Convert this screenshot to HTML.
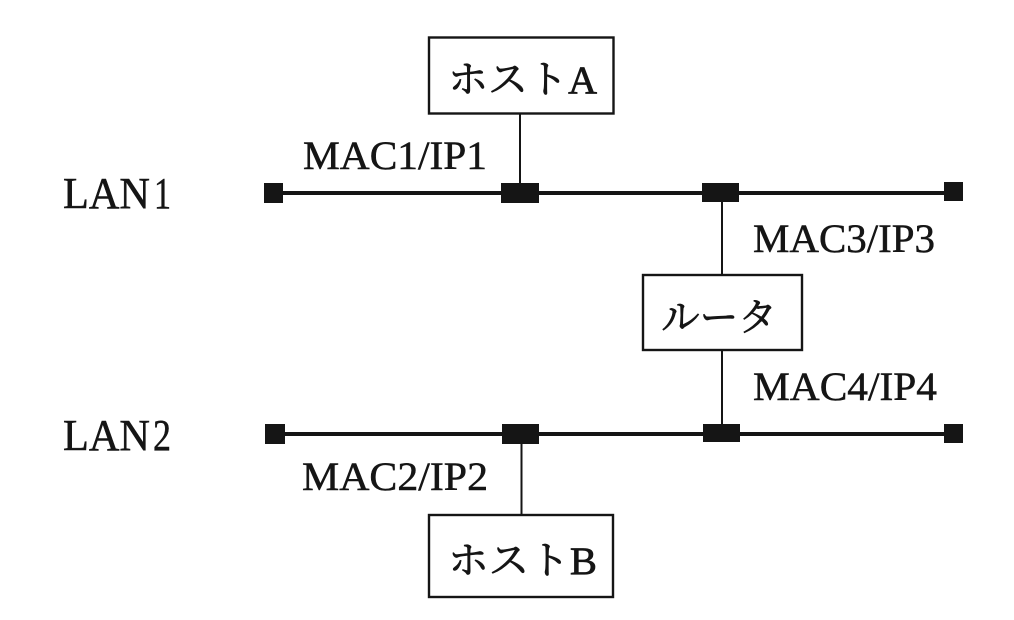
<!DOCTYPE html>
<html><head><meta charset="utf-8"><style>
html,body{margin:0;padding:0;background:#fff;}
svg{display:block;}
text{font-family:"Liberation Serif","Noto Serif CJK SC",serif;fill:#151515;stroke:#151515;stroke-width:0.5;}
.k{font-family:"Liberation Serif","Noto Serif CJK SC","Noto Sans CJK JP",serif;stroke-width:0.7;}
</style></head><body>
<svg width="1014" height="620" viewBox="0 0 1014 620" xmlns="http://www.w3.org/2000/svg">
<rect width="1014" height="620" fill="#fff"/>
<g fill="#151515" stroke="none">
<!-- LAN1 line -->
<rect x="274" y="191" width="680" height="4"/>
<rect x="264" y="183" width="19" height="20"/>
<rect x="944" y="182" width="19" height="19"/>
<rect x="501" y="183" width="38" height="20"/>
<rect x="702" y="183" width="37" height="19"/>
<!-- LAN2 line -->
<rect x="275" y="432" width="680" height="4"/>
<rect x="265" y="424" width="20" height="20"/>
<rect x="944" y="424" width="19" height="19"/>
<rect x="502" y="424" width="37" height="20"/>
<rect x="703" y="424" width="37" height="18"/>
</g>
<g stroke="#151515" fill="none">
<line x1="520" y1="114" x2="520" y2="184" stroke-width="2"/>
<line x1="722" y1="201" x2="722" y2="275" stroke-width="2"/>
<line x1="722" y1="350" x2="722" y2="425" stroke-width="2"/>
<line x1="521.5" y1="443" x2="521.5" y2="515" stroke-width="2"/>
<rect x="429" y="37.5" width="184.5" height="76" stroke-width="2.4"/>
<rect x="643" y="275" width="159" height="75" stroke-width="2.4"/>
<rect x="429" y="515" width="184" height="82" stroke-width="2.4"/>
</g>
<text class="k" x="448" y="93" font-size="39" textLength="149" lengthAdjust="spacingAndGlyphs">ホストA</text>
<text class="k" x="661" y="331" font-size="39" textLength="116" lengthAdjust="spacingAndGlyphs">ルータ</text>
<text class="k" x="448" y="574" font-size="39" textLength="149" lengthAdjust="spacingAndGlyphs">ホストB</text>
<text x="303" y="169" font-size="40" textLength="184" lengthAdjust="spacingAndGlyphs">MAC1/IP1</text>
<text x="753" y="252" font-size="40" textLength="182" lengthAdjust="spacingAndGlyphs">MAC3/IP3</text>
<text x="753" y="400" font-size="40" textLength="184" lengthAdjust="spacingAndGlyphs">MAC4/IP4</text>
<text x="302" y="490" font-size="40" textLength="186" lengthAdjust="spacingAndGlyphs">MAC2/IP2</text>
<text x="63" y="208" font-size="44" textLength="87" lengthAdjust="spacingAndGlyphs">LAN</text>
<text x="154" y="208" font-size="44" textLength="17" lengthAdjust="spacingAndGlyphs">1</text>
<text x="63" y="450" font-size="44" textLength="87" lengthAdjust="spacingAndGlyphs">LAN</text>
<text x="153" y="450" font-size="44" textLength="18" lengthAdjust="spacingAndGlyphs">2</text>
</svg>
</body></html>
